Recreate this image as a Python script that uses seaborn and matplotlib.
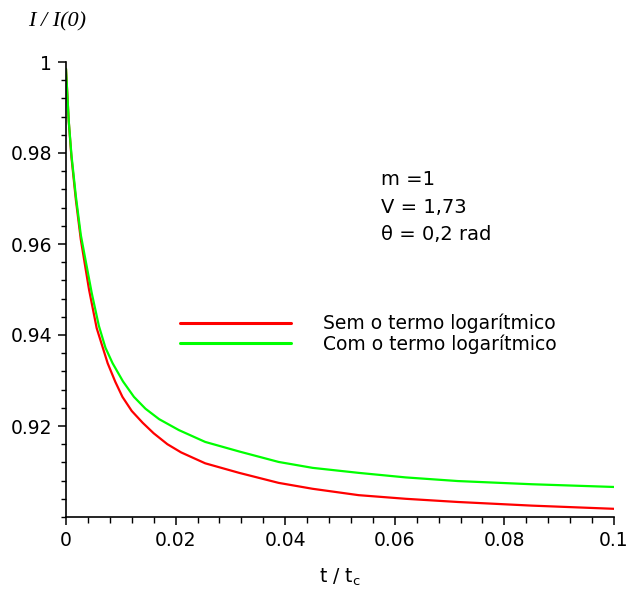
import numpy as np
import pandas as pd
import matplotlib
matplotlib.use("Agg")
import matplotlib.pyplot as plt
import seaborn as sns
from matplotlib.ticker import MultipleLocator, FixedLocator, FuncFormatter

# ---- data ----
t_sem = [0, 0.0005, 0.001, 0.0018, 0.0027, 0.0042, 0.0056, 0.0076, 0.0090, 0.0103, 0.0120,
         0.0140, 0.0160, 0.0185, 0.0210, 0.0254, 0.0316, 0.0388, 0.0450, 0.0534, 0.0620,
         0.0715, 0.0850, 0.1]
i_sem = [0.9985, 0.9870, 0.9790, 0.9697, 0.9610, 0.9500, 0.9415, 0.9338, 0.9297, 0.9264, 0.9233,
         0.9207, 0.9184, 0.9160, 0.9142, 0.9118, 0.9097, 0.9075, 0.9062, 0.9048, 0.9040,
         0.9033, 0.9025, 0.9018]

t_com = [0, 0.0005, 0.001, 0.0018, 0.0027, 0.0047, 0.0060, 0.0072, 0.0085, 0.0104, 0.0124,
         0.0145, 0.0170, 0.0206, 0.0254, 0.0316, 0.0388, 0.0450, 0.0534, 0.0620, 0.0715,
         0.0850, 0.1]
i_com = [0.9985, 0.9870, 0.9795, 0.9705, 0.9620, 0.9492, 0.9420, 0.9372, 0.9338, 0.9298, 0.9264,
         0.9238, 0.9215, 0.9191, 0.9165, 0.9144, 0.9121, 0.9108, 0.9097, 0.9087, 0.9079,
         0.9072, 0.9066]

series_names = ["Sem o termo logarítmico", "Com o termo logarítmico"]
series_colors = ["#ff0000", "#00ff00"]

x_major = [0, 0.02, 0.04, 0.06, 0.08, 0.1]
y_major = [0.92, 0.94, 0.96, 0.98, 1.0]
param_lines = ["m =1", "V = 1,73", "θ = 0,2 rad"]

df = pd.concat([
    pd.DataFrame({"t": t_sem, "I": i_sem, "serie": series_names[0]}),
    pd.DataFrame({"t": t_com, "I": i_com, "serie": series_names[1]}),
], ignore_index=True)

sns.set_style("ticks")
plt.rcParams["font.family"] = ["DejaVu Sans"]
plt.rcParams["text.color"] = "black"
plt.rcParams["xtick.color"] = "black"
plt.rcParams["ytick.color"] = "black"
plt.rcParams["axes.labelcolor"] = "black"

L, R, T, B = 66, 614, 62, 517
fig = plt.figure(figsize=(6.29, 5.90), dpi=100)
ax = fig.add_axes([L / 629, 1 - B / 590, (R - L) / 629, (B - T) / 590])

sns.lineplot(data=df, x="t", y="I", hue="serie", palette=dict(zip(series_names, series_colors)),
             estimator=None, sort=False, linewidth=1.6, ax=ax)

ax.set_xlim(0, 0.1)
ax.set_ylim(0.9, 1.0)
for s in ["top", "right"]:
    ax.spines[s].set_visible(False)
for s in ["left", "bottom"]:
    ax.spines[s].set_color("black")
    ax.spines[s].set_linewidth(1.2)

ax.xaxis.set_major_locator(FixedLocator(x_major))
ax.xaxis.set_minor_locator(MultipleLocator(0.004))
ax.yaxis.set_major_locator(FixedLocator(y_major))
ax.yaxis.set_minor_locator(MultipleLocator(0.004))
fmt = FuncFormatter(lambda v, p: "%g" % round(v, 4))
ax.xaxis.set_major_formatter(fmt)
ax.yaxis.set_major_formatter(fmt)
ax.tick_params(which="major", length=6, width=1.1, color="black", labelcolor="black",
               labelsize=13.5, pad=4)
ax.tick_params(which="minor", length=3.5, width=1.0, color="black")
ax.tick_params(axis="x", which="minor", length=4.5)

ax.set_xlabel(r"t / t$_\mathrm{c}$", fontsize=13.5, labelpad=12, color="black")
ax.set_ylabel("")

fig.text(57 / 629, 1 - 22 / 590, "I / I(0)", family="Liberation Serif", style="italic",
         fontsize=16, ha="center", va="center", color="black")

for k, line in enumerate(param_lines):
    ax.text(0.0575, 0.9741 - k * 0.0060, line, fontsize=14, ha="left", va="center",
            color="black")

leg = ax.legend(loc="upper left", bbox_to_anchor=((180 - L) / (R - L), (B - 314) / (B - T)),
                frameon=False, fontsize=13.5, handlelength=5.9, handletextpad=1.75,
                labelspacing=0.05, borderpad=0, borderaxespad=0)
for h in leg.get_lines():
    h.set_linewidth(2.2)
for txt in leg.get_texts():
    txt.set_color("black")

fig.savefig("out.png", dpi=100)
